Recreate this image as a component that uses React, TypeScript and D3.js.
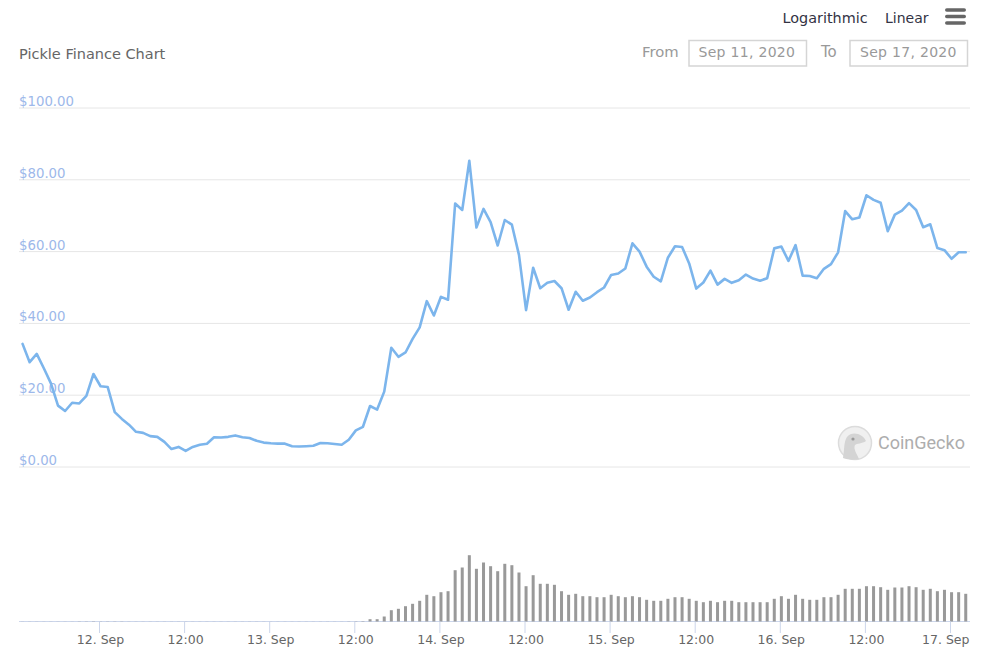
import * as d3 from "d3";

const priceValues = [
  34.3, 29.2, 31.5, 27.5, 23.3, 17.1, 15.6, 17.9, 17.7, 19.8, 25.9, 22.5, 22.3, 15.3, 13.4, 11.8, 9.8, 9.5, 8.6, 8.4,
  7.0, 5.0, 5.6, 4.5, 5.6, 6.2, 6.5, 8.3, 8.2, 8.4, 8.8, 8.3, 8.1, 7.3, 6.8, 6.6, 6.5, 6.5, 5.8, 5.7,
  5.8, 5.9, 6.7, 6.6, 6.4, 6.2, 7.6, 10.2, 11.2, 17.0, 16.0, 21.0, 33.2, 30.7, 31.9, 35.7, 38.9, 46.2, 42.2, 47.4,
  46.6, 73.4, 71.6, 85.3, 66.7, 71.9, 68.2, 61.7, 68.8, 67.5, 59.1, 43.7, 55.5, 49.8, 51.3, 51.8, 49.8, 43.8, 48.8, 46.3,
  47.2, 48.7, 50.0, 53.5, 53.9, 55.3, 62.3, 60.0, 55.8, 53.0, 51.7, 58.3, 61.5, 61.3, 56.7, 49.7, 51.4, 54.7, 50.8, 52.4,
  51.3, 52.0, 53.6, 52.5, 51.9, 52.6, 60.9, 61.4, 57.4, 61.8, 53.3, 53.2, 52.6, 55.2, 56.5, 59.8, 71.3, 69.0, 69.5, 75.7,
  74.4, 73.6, 65.7, 70.3, 71.4, 73.5, 71.6, 66.8, 67.6, 61.0, 60.4, 58.0, 59.8, 59.8,
];

// volume in millions, estimated
const volumeValues = [
  0.01, 0.01, 0.01, 0.01, 0.01, 0.01, 0.01, 0.01, 0.02, 0.02, 0.03, 0.02, 0.02, 0.02, 0.02, 0.01, 0.01, 0.01, 0.01, 0.01,
  0.01, 0.01, 0.01, 0.01, 0.01, 0.01, 0.01, 0.01, 0.01, 0.01, 0.01, 0.01, 0.01, 0.01, 0.01, 0.01, 0.01, 0.01, 0.01, 0.01,
  0.01, 0.01, 0.01, 0.01, 0.01, 0.01, 0.02, 0.03, 0.04, 0.23, 0.23, 0.5, 1.13, 1.27, 1.53, 1.77, 2.07, 2.67, 2.53, 2.93,
  3.03, 5.13, 5.4, 6.63, 5.27, 5.9, 5.53, 5.03, 5.77, 5.63, 4.9, 3.53, 4.63, 3.77, 3.77, 3.67, 3.03, 2.67, 2.77, 2.53,
  2.53, 2.43, 2.43, 2.67, 2.53, 2.43, 2.53, 2.43, 2.17, 2.07, 2.07, 2.27, 2.43, 2.43, 2.27, 2.07, 1.93, 2.07, 1.93, 2.07,
  2.07, 1.93, 1.93, 1.93, 1.93, 1.93, 2.27, 2.53, 2.27, 2.67, 2.27, 2.17, 2.17, 2.43, 2.43, 2.67, 3.27, 3.27, 3.27, 3.53,
  3.53, 3.43, 3.17, 3.4, 3.4, 3.53, 3.43, 3.17, 3.27, 3.03, 3.17, 2.93, 2.93, 2.77,
];

const priceTicks = [0, 20, 40, 60, 80, 100];
const xTickLabels = ["12. Sep", "12:00", "13. Sep", "12:00", "14. Sep", "12:00", "15. Sep", "12:00", "16. Sep", "12:00", "17. Sep"];
const firstPoint = Date.UTC(2020, 8, 11, 13, 9);
const firstTick = Date.UTC(2020, 8, 12);
const hour = 3600 * 1000;

const times = priceValues.map((_, i) => new Date(firstPoint + i * hour));
const tickTimes = xTickLabels.map((_, i) => new Date(firstTick + i * 12 * hour));

const x = d3.scaleUtc().domain([new Date(firstTick), new Date(firstTick + 120 * hour)]).range([99.5, 950.5]);
const y = d3.scaleLinear().domain([0, 100]).range([467, 108]);
const yVolume = d3.scaleLinear().domain([0, 6.63]).range([621.5, 555.2]);

const line = d3
  .line<number>()
  .x((_, i) => x(times[i]))
  .y((d) => y(d));

const font = "'DejaVu Sans', sans-serif";

export default function App() {
  return (
    <svg
      width={982}
      height={653}
      style={{ position: "absolute", left: 0, top: 0, display: "block", background: "#fff" }}
      fontFamily={font}
    >
      <text x={19} y={59} fontSize={14.5} fill="#666">Pickle Finance Chart</text>

      <text x={782.5} y={23} fontSize={14.4} fill="#333344">Logarithmic</text>
      <text x={885} y={23} fontSize={14} fill="#333344">Linear</text>
      {[10, 16.5, 23].map((v) => (
        <rect key={v} x={945} y={v - 1.75} width={21} height={3.5} rx={1.75} fill="#666" />
      ))}

      <text x={642} y={57} fontSize={14.8} fill="#999">From</text>
      <rect x={689} y={40.5} width={117.5} height={25.5} fill="#fff" stroke="#d5d5d5" strokeWidth={1.5} />
      <text x={698.5} y={57} fontSize={14} letterSpacing={0.3} fill="#999">Sep 11, 2020</text>
      <text x={821} y={57} fontSize={15} fill="#999">To</text>
      <rect x={850} y={40.5} width={117.5} height={25.5} fill="#fff" stroke="#d5d5d5" strokeWidth={1.5} />
      <text x={860} y={57} fontSize={14} letterSpacing={0.3} fill="#999">Sep 17, 2020</text>

      {priceTicks.map((t) => (
        <g key={t}>
          <line x1={19} x2={970} y1={y(t)} y2={y(t)} stroke="#e6e6e6" />
          <text x={19} y={y(t) - 2} fontSize={13.3} fill="#9db8ea">{`$${t.toFixed(2)}`}</text>
        </g>
      ))}

      <g>
        <circle cx={855} cy={443} r={16.5} fill="#f0f0f0" stroke="#dcdcdc" strokeWidth={1.5} />
        <path d="M843 458 C845 448 843 437 851 434 C857 432 864 436 866 441 C862 444 857 443 855 445 C853 449 857 454 859 459 C854 460 848 460 843 458 Z" fill="#d4d4d4" />
        <circle cx={853} cy={439} r={1.6} fill="#999" />
        <text x={878} y={449} fontSize={18} fontFamily="Roboto, sans-serif" fill="#adadad">CoinGecko</text>
      </g>

      <path d={line(priceValues) ?? ""} fill="none" stroke="#7cb5ec" strokeWidth={2.6} strokeLinejoin="round" strokeLinecap="round" />

      <line x1={19} x2={970} y1={621.5} y2={621.5} stroke="#ccd6eb" />
      {volumeValues.map((v, i) => (
        <rect
          key={i}
          x={x(times[i]) - 1.5}
          y={yVolume(v)}
          width={3}
          height={yVolume(0) - yVolume(v)}
          fill="#999"
        />
      ))}

      {tickTimes.map((t, i) => (
        <g key={i}>
          <line x1={x(t)} x2={x(t)} y1={621.5} y2={633} stroke="#ccd6eb" />
          <text
            x={i === tickTimes.length - 1 ? 969.5 : x(t) + 1}
            y={644}
            fontSize={12.5}
            textAnchor={i === tickTimes.length - 1 ? "end" : "middle"}
            fill="#666"
          >
            {xTickLabels[i]}
          </text>
        </g>
      ))}
    </svg>
  );
}
